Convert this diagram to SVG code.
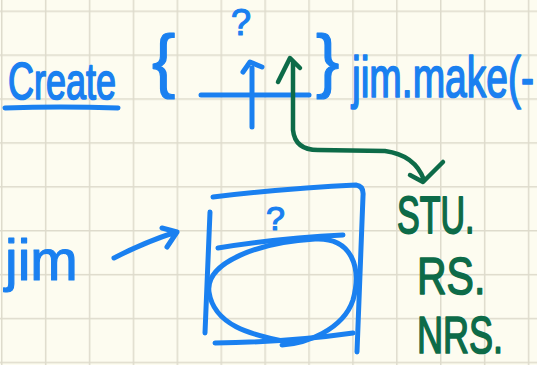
<svg xmlns="http://www.w3.org/2000/svg" width="537" height="365" viewBox="0 0 537 365">
<defs>
<pattern id="grid" x="1" y="10.5" width="43.9" height="43.9" patternUnits="userSpaceOnUse">
<path d="M0.75 0 V43.9 M0 0.75 H43.9" stroke="#dedbcc" stroke-width="1.5" fill="none"/>
</pattern>
<style>
.b{fill:none;stroke:#1a80f0;stroke-width:5;stroke-linecap:round;stroke-linejoin:round}
.g{fill:none;stroke:#0d6b48;stroke-width:4.5;stroke-linecap:round;stroke-linejoin:round}
.bt{fill:#1a80f0;stroke:#1a80f0;stroke-width:1.2;stroke-linejoin:round;font-family:"Liberation Sans",Arial,sans-serif}
.gt{fill:#0d6b48;stroke:#0d6b48;stroke-width:1.2;stroke-linejoin:round;font-family:"Liberation Sans",Arial,sans-serif}
</style>
</defs>
<rect width="537" height="365" fill="#fdfcf0"/>
<rect width="537" height="365" fill="url(#grid)"/>

<g id="create">
<text class="bt" transform="translate(8,99) scale(1,1.45)" font-size="36">Create</text>
<path class="b" d="M5 108 Q60 106 118 108"/>
</g>
<g id="brace-open"><text class="bt" x="152" y="84" font-size="70">{</text></g>
<g id="blank">
<path class="b" d="M201 95 L309 95"/>
<path class="b" d="M252 68 L252 127 M243 72 L250 62 L262 67"/>
<text class="bt" x="231" y="35" font-size="36">?</text>
</g>
<g id="brace-close"><text class="bt" x="316" y="84" font-size="70">}</text></g>
<g id="jim-make"><text class="bt" transform="translate(352,97) scale(1,1.45)" font-size="39">jim.make(-</text></g>

<g id="jim"><text class="bt" x="5" y="280" font-size="57">jim</text></g>

<g id="box">
<path class="b" d="M213 197 Q290 188 356 185 Q364 186 363 196 L357 352"/>
<path class="b" d="M210 212 L205 333"/>
<path class="b" d="M218 248 Q280 238 343 235"/>
<path class="b" d="M215 343 Q290 342 353 333"/>
<path class="b" d="M288 342 C250 335 214 325 209 292 C205 262 260 242 315 239 C352 237 362 268 353 300 C343 330 305 344 282 345"/>
<text class="bt" x="266" y="230" font-size="34">?</text>
</g>

<g id="stu"><text class="gt" transform="translate(397,233) scale(1,1.52)" font-size="34">STU.</text></g>
<g id="rs"><text class="gt" transform="translate(417,294) scale(1,1.26)" font-size="41">RS.</text></g>
<g id="nrs"><text class="gt" transform="translate(417,353) scale(1,1.43)" font-size="36">NRS.</text></g>

<g id="connectors">
<path class="b" d="M114 258 Q145 242 176 232 M162 228 L177 232 L167 247"/>
<path class="g" d="M293 63 L293 130 Q295 150 318 150 L385 151 Q415 155 424 180 M278 82 L290 58 L300 68 M410 175 L423 182 L443 162"/>
</g>
</svg>
